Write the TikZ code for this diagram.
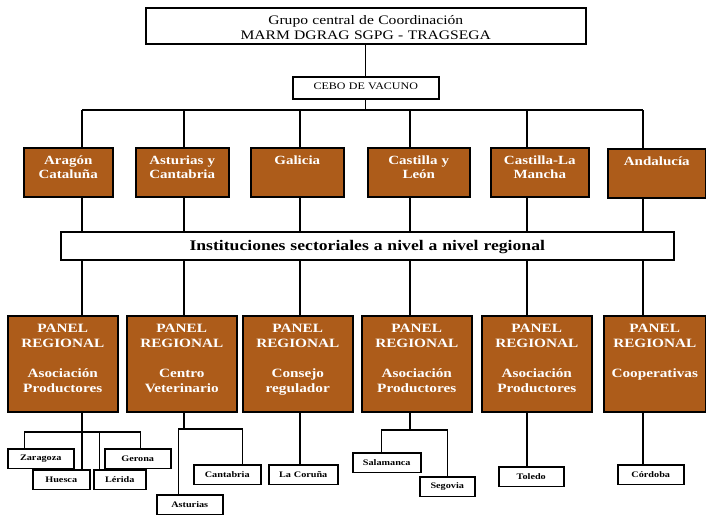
\documentclass[tikz,border=0pt]{standalone}
\usepackage{fontspec}
\setmainfont{Liberation Serif}[FakeStretch=1.2]
\definecolor{boxBrown}{RGB}{173,92,26}
\begin{document}
\begin{tikzpicture}[x=1pt, y=1pt, line width=1.4pt,
    boxStyle/.style={draw, line width=1.5pt, fill=white, anchor=north west, inner sep=0pt, align=center},
    regionStyle/.style={boxStyle, fill=boxBrown, text=white, font=\bfseries\fontsize{12.5}{14.5}\selectfont, text height=16.5pt, text depth=32.5pt},
    panelStyle/.style={boxStyle, fill=boxBrown, text=white, font=\bfseries\fontsize{12.7}{15}\selectfont, text height=17pt, text depth=79pt},
    leafStyle/.style={boxStyle, font=\bfseries\fontsize{8.5}{10}\selectfont, minimum height=19.5pt}]
    \useasboundingbox (0,0) rectangle (706,-514);

    \node[boxStyle, text width=440pt, text height=17pt, text depth=19pt, font=\fontsize{13}{15}\selectfont] (top) at (145,-7) {Grupo central de Coordinación\\MARM DGRAG SGPG - TRAGSEGA};
    \node[boxStyle, text width=146pt, text height=13pt, text depth=9pt, font=\fontsize{10}{12}\selectfont] (cebo) at (292,-76) {CEBO DE VACUNO};

    \node[regionStyle, text width=89pt] (reg1) at (23,-147) {Aragón\\Cataluña};
    \node[regionStyle, text width=93pt] (reg2) at (135,-147) {Asturias y\\Cantabria};
    \node[regionStyle, text width=93pt] (reg3) at (250,-147) {Galicia};
    \node[regionStyle, text width=102pt] (reg4) at (367,-147) {Castilla y\\León};
    \node[regionStyle, text width=98pt] (reg5) at (490,-147) {Castilla-La\\Mancha};
    \node[regionStyle, text width=98pt] (reg6) at (607,-148) {Andalucía};

    \node[boxStyle, text width=613pt, text height=19pt, text depth=9pt, font=\bfseries\fontsize{14.7}{16}\selectfont] (inst) at (60,-231) {Instituciones sectoriales a nivel a nivel regional};

    \node[panelStyle, text width=110pt] (pan1) at (7,-315) {PANEL\\REGIONAL\\[15pt]Asociación\\Productores};
    \node[panelStyle, text width=110pt] (pan2) at (126,-315) {PANEL\\REGIONAL\\[15pt]Centro\\Veterinario};
    \node[panelStyle, text width=110pt] (pan3) at (242,-315) {PANEL\\REGIONAL\\[15pt]Consejo\\regulador};
    \node[panelStyle, text width=110pt] (pan4) at (361,-315) {PANEL\\REGIONAL\\[15pt]Asociación\\Productores};
    \node[panelStyle, text width=110pt] (pan5) at (481,-315) {PANEL\\REGIONAL\\[15pt]Asociación\\Productores};
    \node[panelStyle, text width=102pt] (pan6) at (603,-315) {PANEL\\REGIONAL\\[15pt]Cooperativas};

    \node[leafStyle, text width=66pt] (zar) at (7,-448) {Zaragoza};
    \node[leafStyle, text width=66pt] (ger) at (104,-448) {Gerona};
    \node[leafStyle, text width=57pt] (hue) at (32,-469) {Huesca};
    \node[leafStyle, text width=52pt] (ler) at (93,-469) {Lérida};
    \node[leafStyle, text width=66pt] (ast) at (156,-494) {Asturias};
    \node[leafStyle, text width=67pt] (can) at (193,-464) {Cantabria};
    \node[leafStyle, text width=69pt] (cor) at (268,-464) {La Coruña};
    \node[leafStyle, text width=68pt] (sal) at (352,-452) {Salamanca};
    \node[leafStyle, text width=55pt] (seg) at (419,-476) {Segovia};
    \node[leafStyle, text width=65pt] (tol) at (498,-466) {Toledo};
    \node[leafStyle, text width=66pt] (cord) at (617,-464) {Córdoba};

    \coordinate (c1) at (82,-110);
    \coordinate (c2) at (184,-110);
    \coordinate (c3) at (300,-110);
    \coordinate (c4) at (410,-110);
    \coordinate (c5) at (527,-110);
    \coordinate (c6) at (643,-110);
    \coordinate (b1) at (82,-432);
    \coordinate (b2) at (184,-429);
    \coordinate (b4) at (410,-430);

    \draw (top) -- (cebo);
    \draw (cebo) -- (cebo |- c1);
    \draw (c1) -- (c6);
    \foreach \i in {1,...,6} {
        \draw (c\i) -- (c\i |- reg\i.north);
        \draw (c\i |- reg\i.south) -- (c\i |- inst.north);
        \draw (c\i |- inst.south) -- (c\i |- pan\i.north);
    }

    \draw (c1 |- pan1.south) -- (b1);
    \draw ([xshift=-16pt]zar.north) |- (b1) -| ([xshift=3pt]ger.north);
    \draw (b1) -- (b1 |- hue.north);
    \draw ([xshift=-20pt]ler.north) -- ([xshift=-20pt]ler.north |- b1);
    \draw (c2 |- pan2.south) -- (b2);
    \draw ([xshift=-11pt]ast.north) |- (b2) -| ([xshift=15.5pt]can.north);
    \draw (c3 |- pan3.south) -- (c3 |- cor.north);
    \draw (c4 |- pan4.south) -- (b4);
    \draw ([xshift=-5pt]sal.north) |- (b4) -| (seg.north);
    \draw (c5 |- pan5.south) -- (c5 |- tol.north);
    \draw (c6 |- pan6.south) -- (c6 |- cord.north);
\end{tikzpicture}
\end{document}
